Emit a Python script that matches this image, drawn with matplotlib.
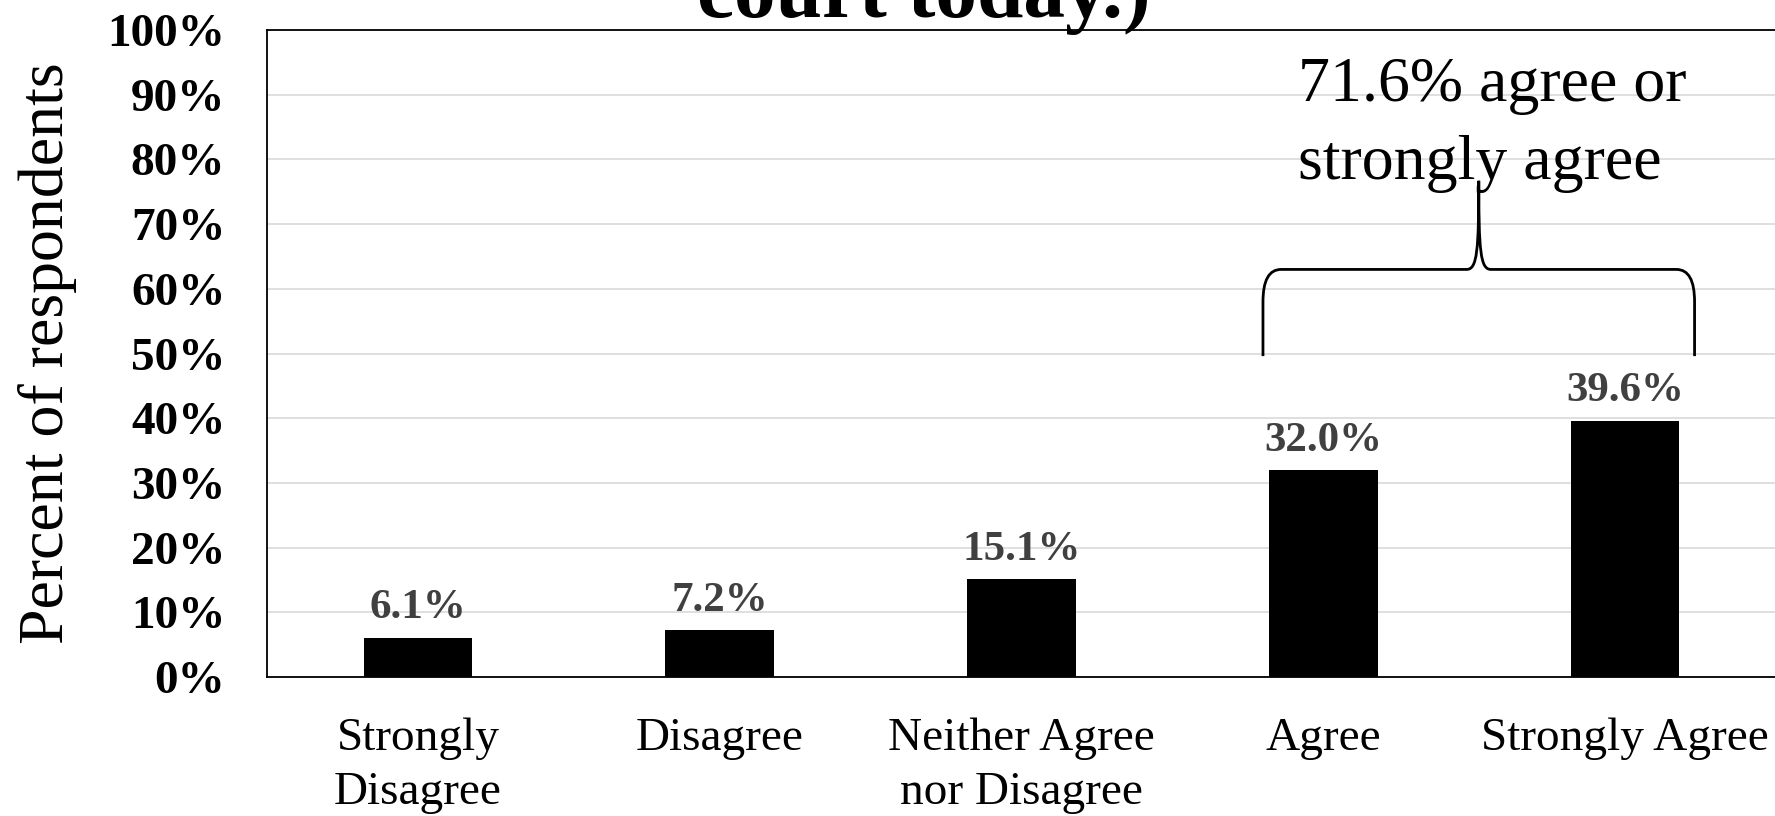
import matplotlib.pyplot as plt
from matplotlib.path import Path
from matplotlib.patches import PathPatch
import numpy as np

# Survey responses (percent of respondents)
categories = ["Strongly\nDisagree", "Disagree", "Neither Agree\nnor Disagree",
              "Agree", "Strongly Agree"]
percents = [6.1, 7.2, 15.1, 32.0, 39.6]
y_ticks = np.arange(0, 101, 10)
tick_labels = [f"{t}%" for t in y_ticks]
title = "court today.)"
note = "71.6% agree or\nstrongly agree"

plt.rcParams['font.family'] = ['Liberation Serif', 'DejaVu Serif']

fig = plt.figure(figsize=(17.75, 8.16), dpi=100)
ax = fig.add_axes([0.1504, 0.1703, 0.8502, 0.7929])

x = np.arange(len(categories))
bars = ax.bar(x, percents, width=0.36, color='black', zorder=3)

ax.set_xlim(-0.5, len(categories) - 0.5)
ax.set_ylim(0, 100)
ax.set_yticks(y_ticks)
ax.set_yticklabels(tick_labels, fontsize=34, fontweight='bold')
ax.set_xticks(x)
ax.set_xticklabels(categories, fontsize=34)
for lab in ax.get_xticklabels():
    lab.set_linespacing(1.35)
ax.tick_params(axis='both', length=0)
ax.tick_params(axis='y', pad=30)
ax.tick_params(axis='x', pad=29)

ax.grid(axis='y', color='#d9d9d9', linewidth=1.2, zorder=0)
for s in ax.spines.values():
    s.set_color('black')
    s.set_linewidth(1.3)

ax.set_ylabel("Percent of respondents", fontsize=46)
ax.yaxis.set_label_coords(-0.126, 0.5)

# value labels
for xi, v in zip(x, percents):
    ax.annotate(f"{v:.1f}%", (xi, v), xytext=(0, 14), textcoords='offset points',
                ha='center', va='baseline', fontsize=31, fontweight='bold',
                color='#404040')

# title (top line is cut off in the original)
fig.text(0.5206, 0.979, title, ha='center', va='baseline',
         fontsize=60, fontweight='bold')

# curly brace over Agree + Strongly Agree
i_a, i_sa = 3, 4
xl, xr = i_a - 0.20, i_sa + 0.23
xm = (xl + xr) / 2
yb, yh, yt = 49.6, 63.0, 76.7
dx, dy = 0.06, 5.0
verts = [
    (xl, yb), (xl, yh - dy), (xl, yh), (xl + dx, yh),
    (xm - 0.04, yh),
    (xm - 0.005, yh), (xm, yh + 3), (xm, yt),
    (xm, yh + 3), (xm + 0.005, yh), (xm + 0.04, yh),
    (xr - dx, yh),
    (xr, yh), (xr, yh - dy), (xr, yb),
]
codes = [Path.MOVETO, Path.LINETO, Path.CURVE3, Path.CURVE3,
         Path.LINETO,
         Path.CURVE4, Path.CURVE4, Path.CURVE4,
         Path.CURVE4, Path.CURVE4, Path.CURVE4,
         Path.LINETO,
         Path.CURVE3, Path.CURVE3, Path.LINETO]
ax.add_patch(PathPatch(Path(verts, codes), fill=False, lw=2, color='black',
                       clip_on=False, zorder=4))

ax.text(2.917, 95.8, note, ha='left', va='top', fontsize=46, linespacing=1.45)

fig.savefig("out.png", dpi=100)
